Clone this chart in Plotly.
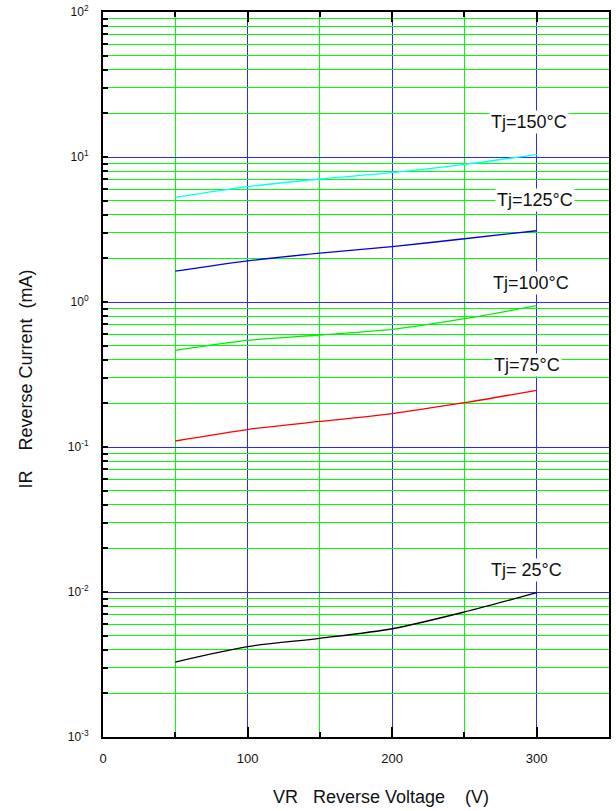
import plotly.graph_objects as go
import numpy as np

# ---- data ----
vr = [50, 100, 150, 200, 250, 300]
ir_150 = [5.27, 6.24, 7.05, 7.8, 8.9, 10.4]
ir_125 = [1.63, 1.92, 2.17, 2.41, 2.73, 3.10]
ir_100 = [0.464, 0.544, 0.592, 0.647, 0.767, 0.944]
ir_75 = [0.110, 0.132, 0.150, 0.170, 0.202, 0.246]
ir_25 = [0.00329, 0.0042, 0.00479, 0.00558, 0.00728, 0.0099]

series_names = ["Tj=150°C", "Tj=125°C", "Tj=100°C", "Tj=75°C", "Tj= 25°C"]
series_vals = [ir_150, ir_125, ir_100, ir_75, ir_25]
series_colors = ["#00FFFF", "#0000E0", "#00EE00", "#FF0000", "#000000"]
label_x = [295, 299, 296, 293, 293]
label_y = [17.3, 5.05, 1.35, 0.368, 0.0142]

x_ticks = [0, 100, 200, 300]
x_ticktext = ["0", "100", "200", "300"]
decades = [-3, -2, -1, 0, 1, 2]

FONT = "Arial, Liberation Sans, sans-serif"

y_tickvals = []
y_ticktext = []
for d in decades:
    for m in range(1, 10):
        if d == 2 and m > 1:
            break
        y_tickvals.append(m * 10.0 ** d)
        y_ticktext.append(f"10<sup>{d}</sup>" if m == 1 else " ")

fig = go.Figure()
for name, vals, col in zip(series_names, series_vals, series_colors):
    fig.add_trace(go.Scatter(x=vr, y=vals, mode="lines", name=name,
                             line=dict(color=col, width=1.3, shape="spline", smoothing=0.8),
                             showlegend=False, hoverinfo="skip"))

# dummy trace for overlay y axis (blue decade grid)
fig.add_trace(go.Scatter(x=[100], y=[1], xaxis="x", yaxis="y2", mode="markers",
                         marker=dict(opacity=0), showlegend=False, hoverinfo="skip"))

for name, lx, ly in zip(series_names, label_x, label_y):
    fig.add_annotation(x=lx, y=np.log10(ly), text=name, showarrow=False,
                       font=dict(family=FONT, size=18, color="#111"),
                       bgcolor="white", borderpad=1)

fig.add_annotation(xref="paper", yref="paper", x=0.549, y=-0.083,
                   xanchor="center", yanchor="middle",
                   text="VR\u00a0\u00a0\u00a0Reverse Voltage\u00a0\u00a0\u00a0\u00a0(V)",
                   showarrow=False, font=dict(family=FONT, size=18, color="#111"))
fig.add_annotation(xref="paper", yref="paper", x=-0.153, y=0.494, textangle=-90,
                   xanchor="center", yanchor="middle",
                   text="IR\u00a0\u00a0\u00a0\u00a0Reverse Current\u00a0\u00a0(mA)",
                   showarrow=False, font=dict(family=FONT, size=18, color="#111"))

fig.update_layout(
    width=616, height=811,
    margin=dict(l=103, r=7, t=12, b=74, autoexpand=False),
    paper_bgcolor="white", plot_bgcolor="white",
    font=dict(family=FONT, color="#111"),
    xaxis=dict(range=[0, 350], tickvals=x_ticks, ticktext=x_ticktext,
               ticks="inside", ticklen=10, tickwidth=2, tickcolor="black",
               showline=True, linewidth=2, linecolor="black", mirror="ticks",
               showgrid=True, gridcolor="#2828FF", gridwidth=1, zeroline=False,
               minor=dict(dtick=50, tick0=0, ticks="inside", ticklen=5, tickwidth=2,
                          tickcolor="black", showgrid=True, gridcolor="#00FF00", gridwidth=1),
               tickfont=dict(size=13), ticklabelstandoff=8, automargin=False),
    yaxis=dict(type="log", range=[-3, 2], tickvals=y_tickvals, ticktext=y_ticktext,
               ticks="inside", ticklen=5, tickwidth=2, tickcolor="black",
               showline=True, linewidth=2, linecolor="black", mirror=True,
               showgrid=True, gridcolor="#00FF00", gridwidth=1, zeroline=False,
               tickfont=dict(size=12), ticklabelstandoff=10, automargin=False),
    yaxis2=dict(type="log", range=[-3, 2], overlaying="y", side="left", anchor="x",
                tickvals=[10.0 ** d for d in decades], showticklabels=False, ticks="",
                showline=False, showgrid=True, gridcolor="#2828FF", gridwidth=1,
                zeroline=False, automargin=False),
)

fig.write_html("out.html", config={"displayModeBar": False})

# remove default page margin so the figure sits at the window origin
with open("out.html", "r", encoding="utf-8") as f:
    html = f.read()
html = html.replace("<head>", "<head><style>html,body{margin:0;padding:0;overflow:hidden;}</style>", 1)
with open("out.html", "w", encoding="utf-8") as f:
    f.write(html)
